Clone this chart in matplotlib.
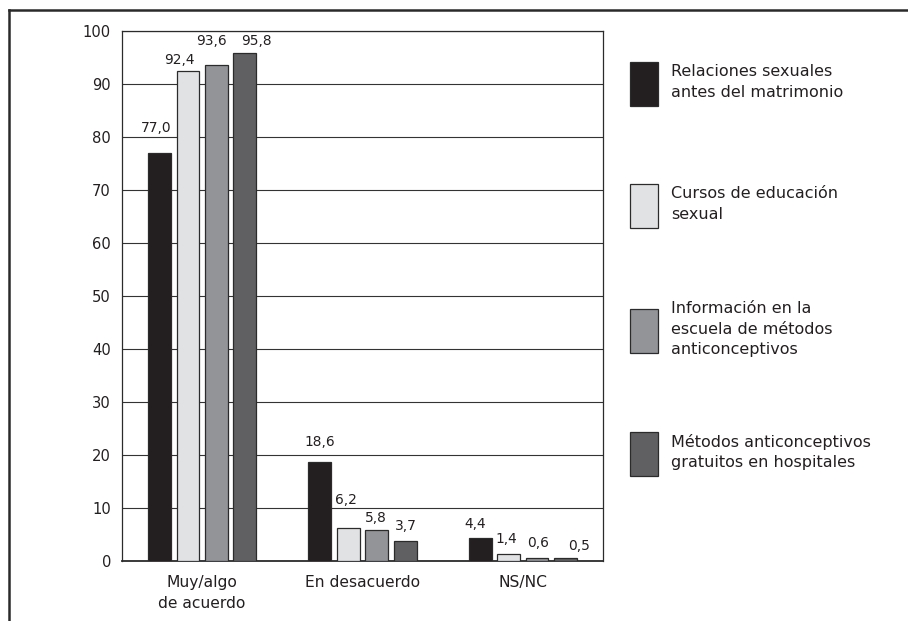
import matplotlib
matplotlib.use("Agg")
import matplotlib.pyplot as plt
from matplotlib.patches import Rectangle
from matplotlib.lines import Line2D
import numpy as np

plt.rcParams["font.family"] = ["DejaVu Sans"]

categories = ["Muy/algo\nde acuerdo", "En desacuerdo", "NS/NC"]
series = [
    "Relaciones sexuales\nantes del matrimonio",
    "Cursos de educación\nsexual",
    "Información en la\nescuela de métodos\nanticonceptivos",
    "Métodos anticonceptivos\ngratuitos en hospitales",
]
relaciones = [77.0, 18.6, 4.4]
cursos = [92.4, 6.2, 1.4]
informacion = [93.6, 5.8, 0.6]
metodos = [95.8, 3.7, 0.5]
values = [relaciones, cursos, informacion, metodos]

colors = ["#231f20", "#e1e2e4", "#939497", "#606062"]
EDGE = "#2b2b2b"

# label nudges (points) so neighbouring numbers don't collide
label_dy = [[15, 12, 7], [5, 17.5, 7.5], [14, 6, 7.5], [6, 8, 6]]
label_dx = [[-2.5, 0, -3.4], [-6.5, -1.4, -1.8], [-3.6, -0.7, 0.7], [8.6, 0.7, 10]]

W, H = 908, 621
fig = plt.figure(figsize=(W / 100, H / 100), dpi=100)
ax = fig.add_axes([122 / W, 1 - 561 / H, (603 - 122) / W, (561 - 31) / H])

x = np.arange(len(categories)) + 0.5
step = 0.177
width = 0.143
for i, (vals, col) in enumerate(zip(values, colors)):
    xs = x + (i - 1.5) * step
    ax.bar(xs, vals, width=width, color=col, edgecolor=EDGE, linewidth=0.9, zorder=3)
    for j, (xx, v) in enumerate(zip(xs, vals)):
        ax.annotate(f"{v:.1f}".replace(".", ","), (xx, v),
                    xytext=(label_dx[i][j], label_dy[i][j]), textcoords="offset points",
                    ha="center", va="baseline", fontsize=9.9, color="#231f20")

ax.set_xlim(0, 3)
ax.set_ylim(0, 100)
ax.set_yticks(range(0, 101, 10))
ax.set_xticks(x)
ax.set_xticklabels(categories, fontsize=11.2, linespacing=1.5, color="#231f20")
ax.tick_params(axis="y", length=0, pad=8, labelsize=10.6, labelcolor="#231f20")
ax.tick_params(axis="x", length=0, pad=10)
ax.yaxis.grid(True, color="#333333", linewidth=0.8, zorder=0)
ax.set_axisbelow(True)
for side in ["left", "right", "bottom", "top"]:
    ax.spines[side].set_color("#2b2b2b")
    ax.spines[side].set_linewidth(0.9)
ax.spines["bottom"].set_linewidth(1.3)

# legend boxes on the right
patch_tops = [62, 184, 309, 432]
for top, col, name in zip(patch_tops, colors, series):
    fig.add_artist(Rectangle((630 / W, 1 - (top + 44) / H), 28 / W, 44 / H,
                             transform=fig.transFigure, facecolor=col,
                             edgecolor=EDGE, linewidth=0.9))
    fig.text(671 / W, 1 - (top + 20) / H, name, ha="left", va="center",
             fontsize=11.5, linespacing=1.45, color="#231f20")

# outer frame
fig.add_artist(Line2D([9 / W, 1], [1 - 10 / H, 1 - 10 / H], transform=fig.transFigure,
                      color="#2a2a2a", linewidth=1.8))
fig.add_artist(Line2D([9 / W, 9 / W], [0, 1 - 10 / H], transform=fig.transFigure,
                      color="#2a2a2a", linewidth=1.8))

fig.savefig("out.png", dpi=100)
